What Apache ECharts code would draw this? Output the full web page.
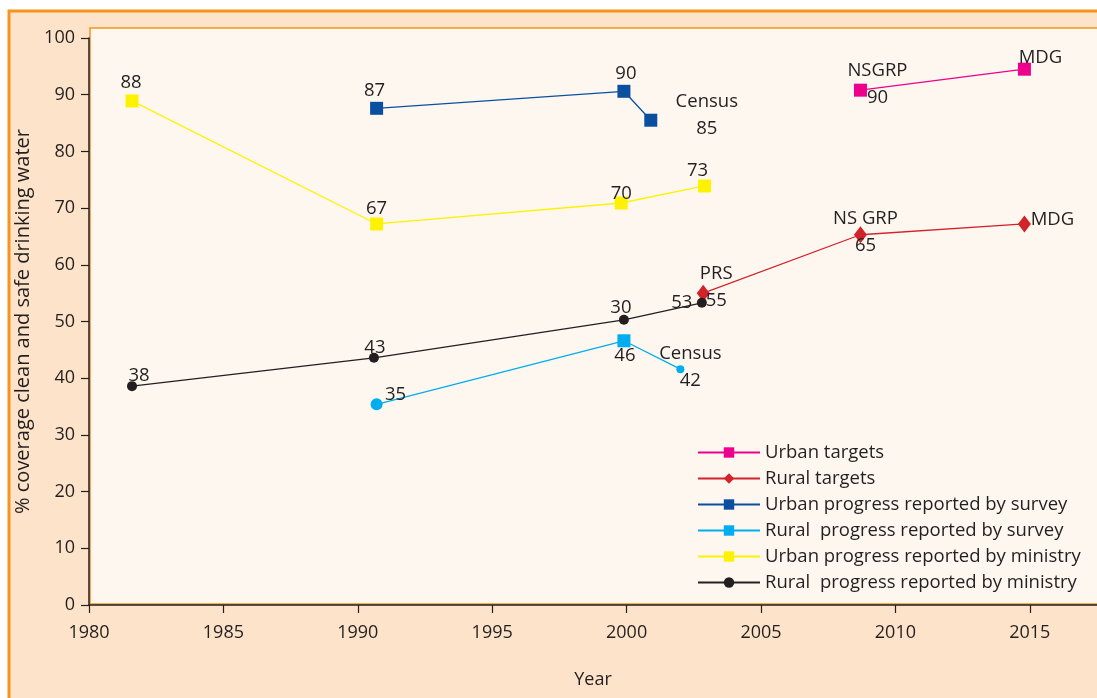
<!DOCTYPE html>
<html>
<head>
<meta charset="utf-8">
<script src="https://cdn.jsdelivr.net/npm/echarts@6/dist/echarts.min.js"></script>
<style>
  html, body { margin: 0; padding: 0; background: #ffffff; }
  #main { width: 1097px; height: 698px; }
</style>
</head>
<body>
<div id="main"></div>
<script>
// values (x = year, y = % coverage)
var urbanTargetYears = [2008.7, 2014.8];
var urbanTargetVals = [90.8, 94.5];
var urbanTargetLabels = ['NSGRP\n90', 'MDG'];

var ruralTargetYears = [2002.85, 2008.7, 2014.8];
var ruralTargetVals = [55, 65.3, 67.2];
var ruralTargetLabels = ['PRS\n55', 'NS GRP\n65', 'MDG'];

var urbanSurveyYears = [1990.7, 1999.9, 2000.9];
var urbanSurveyVals = [87.6, 90.6, 85.5];
var urbanSurveyLabels = ['87', '90', 'Census\n85'];

var ruralSurveyYears = [1990.7, 1999.9, 2002.0];
var ruralSurveyVals = [35.4, 46.6, 41.6];
var ruralSurveyLabels = ['35', '46', 'Census\n42'];

var urbanMinistryYears = [1981.6, 1990.7, 1999.8, 2002.9];
var urbanMinistryVals = [88.9, 67.2, 70.9, 73.9];
var urbanMinistryLabels = ['88', '67', '70', '73'];

var ruralMinistryYears = [1981.6, 1990.6, 1999.9, 2002.8];
var ruralMinistryVals = [38.6, 43.6, 50.3, 53.3];
var ruralMinistryLabels = ['38', '43', '30', '53'];

var seriesNames = [
  'Urban targets',
  'Rural targets',
  'Urban progress reported by survey',
  'Rural  progress reported by survey',
  'Urban progress reported by ministry',
  'Rural  progress reported by ministry'
];

var FONT = 'Open Sans';
var TXT = '#231f20';

// label offsets from the marker centre
var labelOffsets = {
  ut: [[17, -6], [16, -11]],
  rt: [[13, -6], [5, -3], [28, -4]],
  us: [[-2, -18], [2, -18], [56, -5]],
  rs: [[19, -10], [1, 15], [10, -2]],
  um: [[-1, -18], [0, -15], [0, -9], [-7, -15]],
  rm: [[7, -10], [1, -10], [-3, -12], [-20, 0]]
};

function pts(xs, ys, labels, offs, sizes) {
  return xs.map(function (x, i) {
    var item = {
      value: [x, ys[i]],
      label: { formatter: labels[i], offset: offs[i] }
    };
    if (sizes) item.symbolSize = sizes[i];
    return item;
  });
}

function mkSeries(name, color, symbol, size, data) {
  return {
    name: name,
    type: 'line',
    data: data,
    symbol: symbol,
    symbolSize: size,
    lineStyle: { color: color, width: 1.3 },
    itemStyle: { color: color },
    label: {
      show: true,
      position: 'inside',
      color: TXT,
      fontFamily: FONT,
      fontSize: 18.5,
      lineHeight: 27,
      align: 'center'
    },
    emphasis: { disabled: true },
    z: 3
  };
}

var chart = echarts.init(document.getElementById('main'));
chart.setOption({
  animation: false,
  backgroundColor: '#ffffff',
  graphic: [
    { type: 'rect', z: -10, shape: { x: 9, y: 11, width: 1100, height: 700 },
      style: { fill: '#fde3c9', stroke: '#f7931e', lineWidth: 3 } },
    { type: 'rect', z: -9, shape: { x: 90, y: 28, width: 1020, height: 576 },
      style: { fill: '#fef7f0', stroke: '#f7931e', lineWidth: 1.5 } }
  ],
  grid: { left: 89, right: 0, top: 38, bottom: 93, outerBoundsMode: 'none' },
  legend: {
    orient: 'vertical',
    left: 692,
    top: 438,
    itemWidth: 62,
    itemHeight: 13,
    itemGap: 7,
    data: seriesNames,
    textStyle: { color: TXT, fontFamily: FONT, fontSize: 18.5 }
  },
  xAxis: {
    type: 'value',
    min: 1980,
    max: 2017.5,
    interval: 5,
    name: 'Year',
    nameLocation: 'middle',
    nameGap: 66,
    nameTextStyle: { color: TXT, fontFamily: FONT, fontSize: 18 },
    axisLine: { lineStyle: { color: TXT, width: 1.5 } },
    axisTick: { length: 8, lineStyle: { color: TXT, width: 1.2 } },
    axisLabel: {
      color: TXT, fontFamily: FONT, fontSize: 18, margin: 19, showMaxLabel: false,
      formatter: function (v) { return String(v); }
    },
    splitLine: { show: false }
  },
  yAxis: {
    type: 'value',
    min: 0,
    max: 100,
    interval: 10,
    name: '% coverage clean and safe drinking water',
    nameLocation: 'middle',
    nameGap: 54,
    nameTextStyle: { color: TXT, fontFamily: FONT, fontSize: 20 },
    axisLine: { show: true, lineStyle: { color: TXT, width: 1.5 } },
    axisTick: { show: true, length: 8, lineStyle: { color: TXT, width: 1.2 } },
    axisLabel: { color: TXT, fontFamily: FONT, fontSize: 18, margin: 14 },
    splitLine: { show: false }
  },
  series: [
    mkSeries(seriesNames[0], '#ec008c', 'rect', 13,
      pts(urbanTargetYears, urbanTargetVals, urbanTargetLabels, labelOffsets.ut)),
    mkSeries(seriesNames[1], '#d2232a', 'diamond', [13, 17],
      pts(ruralTargetYears, ruralTargetVals, ruralTargetLabels, labelOffsets.rt)),
    mkSeries(seriesNames[2], '#0b4fa1', 'rect', 13,
      pts(urbanSurveyYears, urbanSurveyVals, urbanSurveyLabels, labelOffsets.us)),
    mkSeries(seriesNames[3], '#00aeef', 'rect', 13,
      pts(ruralSurveyYears, ruralSurveyVals, ruralSurveyLabels, labelOffsets.rs,
        [[13, 13], [13, 13], [8, 8]]).map(function (d, i) {
          if (i !== 1) d.symbol = 'circle';
          if (i === 0) d.symbolSize = 12;
          return d;
        })),
    mkSeries(seriesNames[4], '#fff200', 'rect', 13,
      pts(urbanMinistryYears, urbanMinistryVals, urbanMinistryLabels, labelOffsets.um)),
    mkSeries(seriesNames[5], '#231f20', 'circle', 10,
      pts(ruralMinistryYears, ruralMinistryVals, ruralMinistryLabels, labelOffsets.rm))
  ]
});
</script>
</body>
</html>
